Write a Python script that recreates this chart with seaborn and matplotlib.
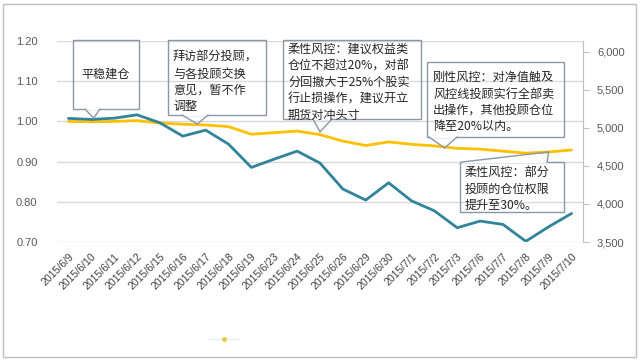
import numpy as np
import matplotlib
matplotlib.use("Agg")
import matplotlib.pyplot as plt
import seaborn as sns
from matplotlib.patches import Rectangle, ConnectionPatch
from matplotlib.lines import Line2D
from matplotlib.ticker import FuncFormatter

# Data
dates = ["2015/6/9", "2015/6/10", "2015/6/11", "2015/6/12", "2015/6/15", "2015/6/16",
         "2015/6/17", "2015/6/18", "2015/6/19", "2015/6/23", "2015/6/24", "2015/6/25",
         "2015/6/26", "2015/6/29", "2015/6/30", "2015/7/1", "2015/7/2", "2015/7/3",
         "2015/7/6", "2015/7/7", "2015/7/8", "2015/7/9", "2015/7/10"]
net_value = [1.000, 0.999, 1.000, 1.002, 0.996, 0.993, 0.991, 0.987, 0.968, 0.972,
             0.976, 0.967, 0.951, 0.940, 0.949, 0.943, 0.939, 0.933, 0.931, 0.926,
             0.921, 0.924, 0.929]
sh_index = [5124, 5110, 5127, 5171, 5066, 4891, 4970, 4786, 4480, 4589, 4694, 4537,
            4196, 4051, 4278, 4041, 3910, 3687, 3775, 3731, 3509, 3700, 3875]

left_ticks = [0.70, 0.80, 0.90, 1.00, 1.10, 1.20]
right_ticks = [3500, 4000, 4500, 5000, 5500, 6000]

# callouts: text, box (left, top, right, bottom in px), text anchor, pointer base (x1, x2, y) px, tip (x index, left value)
notes = [
    ("平稳建仓", (73, 40, 139, 109), (106, 74, "center"), (85, 100, 109), (1.1, 1.008)),
    ("拜访部分投顾，\n与各投顾交换\n意见，暂不作\n调整", (168, 40, 266, 115), (173, 51, "left"), (182, 208, 115), (5.64, 0.9935)),
    ("柔性风控：建议权益类\n仓位不超过20%，对部\n分回撤大于25%个股实\n行止损操作，建议开立\n期货对冲头寸", (283, 40, 421, 119), (288, 43, "left"), (313, 332, 119), (11.0, 0.974)),
    ("刚性风控：对净值触及\n风控线投顾实行全部卖\n出操作，其他投顾仓位\n降至20%以内。", (427, 62, 564, 137), (433, 71, "left"), (429, 457, 137), (16.45, 0.934)),
    ("柔性风控：部分\n投顾的仓位权限\n提升至30%。", (460, 162, 564, 212), (465, 166, "left"), (462, 547, 162), (21.0, 0.924)),
]

sns.set_style("white")
plt.rcParams['font.family'] = ['Liberation Sans', 'Noto Sans CJK SC']

W, H = 640, 361
fig = plt.figure(figsize=(6.4, 3.61), dpi=100)
ax = fig.add_axes([57 / W, 1 - 242 / H, 526 / W, 201 / H])
ax2 = ax.twinx()

sns.lineplot(x=dates, y=net_value, ax=ax, color='#FFC000', lw=2, sort=False)
sns.lineplot(x=dates, y=sh_index, ax=ax2, color='#31849B', lw=2, sort=False)

ax.set_xlim(-0.5, len(dates) - 0.5)
ax.set_ylim(0.70, 1.20)
ax.set_yticks(left_ticks)
ax.yaxis.set_major_formatter(FuncFormatter(lambda v, p: f"{v:.2f}"))
ax2.set_ylim(3500, 6141)
ax2.set_yticks(right_ticks)
ax2.yaxis.set_major_formatter(FuncFormatter(lambda v, p: f"{v:,.0f}"))

ax.grid(axis='y', color='#D9D9D9', lw=1)
ax.grid(axis='x', visible=False)
ax2.grid(False)
for s in ax.spines.values():
    s.set_visible(False)
for name, s in ax2.spines.items():
    s.set_visible(name == 'right')
ax2.spines['right'].set_color('#BFBFBF')

ax.set_xlabel("")
ax.set_ylabel("")
ax2.set_ylabel("")
ax.tick_params(axis='y', length=0, pad=14, labelsize=8, labelcolor='#595959')
ax.tick_params(axis='x', length=0, pad=7, labelsize=7.6, labelcolor='#404040')
ax2.tick_params(axis='y', length=4, color='#BFBFBF', pad=6, labelsize=8, labelcolor='#595959')
for lab in ax.get_xticklabels():
    lab.set_rotation(45)
    lab.set_ha('right')
    lab.set_va('top')
    lab.set_rotation_mode('anchor')

# callout boxes
edge = '#8A97A8'
for text, (l, t, r, b), (tx, ty, ha), (bx1, bx2, by), (xi, yv) in notes:
    fig.add_artist(Rectangle((l / W, 1 - b / H), (r - l) / W, (b - t) / H,
                             transform=fig.transFigure, fill=False, ec=edge, lw=1, zorder=5))
    fig.add_artist(Line2D([(bx1 + 1) / W, (bx2 - 1) / W], [1 - by / H, 1 - by / H],
                          transform=fig.transFigure, color='white', lw=1.6, zorder=6))
    for bx in (bx1, bx2):
        cp = ConnectionPatch(xyA=(bx / W, 1 - by / H), coordsA='figure fraction',
                             xyB=(xi, yv), coordsB=ax.transData,
                             color=edge, lw=1, zorder=7)
        fig.add_artist(cp)
    fig.text(tx / W, 1 - ty / H, text, ha=ha, va='center' if ha == 'center' else 'top',
             fontsize=8.7, color='#262626', linespacing=1.34,
             family=['Noto Sans CJK SC', 'DejaVu Sans'], zorder=8)

# almost invisible legend marker at the bottom
ax.legend(handles=[Line2D([0], [0], color='#EDEDED', lw=1, marker='o', markersize=2.5,
                          markerfacecolor='#E6C84A', markeredgecolor='#E6C84A')],
          labels=[''], loc='center', bbox_to_anchor=(230 / W, 1 - 340 / H),
          bbox_transform=fig.transFigure, frameon=False, handlelength=2.2)

# outer chart frame
fig.add_artist(Rectangle((3 / W, 4 / H), 633 / W, 353 / H, transform=fig.transFigure,
                         fill=False, ec='#BFBFBF', lw=1))

fig.savefig("out.png", dpi=100)
